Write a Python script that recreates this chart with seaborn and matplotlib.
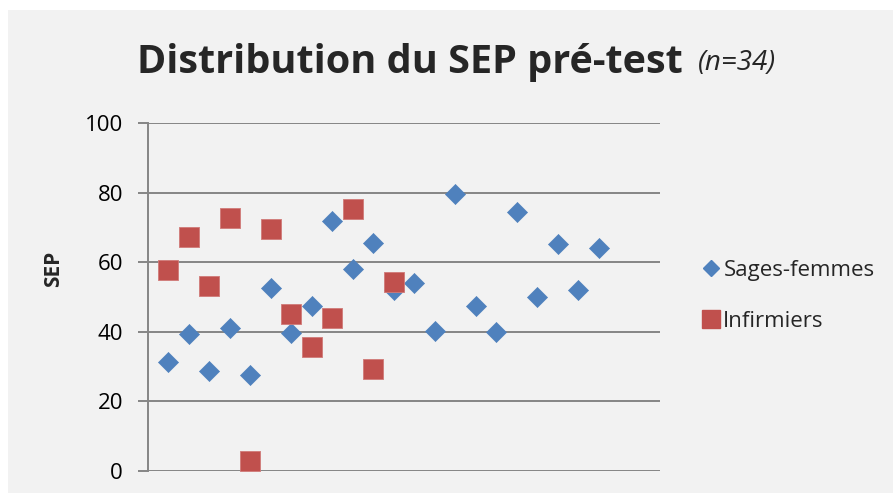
import pandas as pd
import matplotlib.pyplot as plt
import seaborn as sns
from matplotlib.patches import Rectangle
from matplotlib.lines import Line2D

# SEP scores (one point per participant)
sages_femmes = [31.2, 39.5, 28.8, 41.2, 27.6, 52.5, 39.7, 47.3, 71.7, 58.0, 65.6,
                52.0, 54.0, 40.1, 79.6, 47.5, 39.9, 74.5, 49.9, 65.1, 51.9, 64.2]
infirmiers = [57.8, 67.2, 53.3, 72.7, 2.9, 69.4, 45.0, 35.6, 44.0, 75.2, 29.2, 54.2]
y_ticks = [0, 20, 40, 60, 80, 100]

blue = '#4F81BD'
red = '#C0504D'
bg = '#F2F2F2'
grid = '#868686'

df_sf = pd.DataFrame({'idx': range(1, len(sages_femmes) + 1), 'SEP': sages_femmes})
df_inf = pd.DataFrame({'idx': range(1, len(infirmiers) + 1), 'SEP': infirmiers})

sns.set_style('white')
plt.rcParams['font.family'] = ['Open Sans', 'DejaVu Sans']

fig = plt.figure(figsize=(8.93, 4.93), dpi=100)
fig.patch.set_facecolor('white')
# chart area background (Excel style)
fig.patches.append(Rectangle((8 / 893, 0), 1, 1 - 10 / 493, transform=fig.transFigure,
                             facecolor=bg, edgecolor='none', zorder=-5))

ax = fig.add_axes([148 / 893, 22 / 493, 512 / 893, 348 / 493])
ax.set_facecolor(bg)

sns.scatterplot(data=df_sf, x='idx', y='SEP', marker='D', s=104, color=blue,
                edgecolor=blue, linewidth=0.5, ax=ax, zorder=3, clip_on=False)
sns.scatterplot(data=df_inf, x='idx', y='SEP', marker='s', s=200, color=red,
                edgecolor='#D07A78', linewidth=0.6, ax=ax, zorder=4, clip_on=False)

ax.set_xlim(0, 25)
ax.set_ylim(0, 100)
ax.set_yticks(y_ticks)
ax.set_xticks([])
for y in y_ticks:
    ax.axhline(y, color=grid, linewidth=1.4, zorder=1)

for side in ['top', 'right', 'bottom']:
    ax.spines[side].set_visible(False)
ax.spines['left'].set_color(grid)
ax.spines['left'].set_linewidth(1.4)
ax.tick_params(axis='y', direction='out', length=7, width=1.4, color=grid,
               labelsize=16, pad=11, labelcolor='black', left=True)

ax.set_xlabel('')
ax.set_ylabel('SEP', fontsize=15, fontweight='bold', va='center')
ax.yaxis.set_label_coords(-0.1846, 0.58)

# title: bold part + italic (n=34)
fig.text(137 / 893, 1 - 62 / 493, 'Distribution du SEP pré-test', fontsize=28.5,
         fontweight='bold', va='center', ha='left')
fig.text(698 / 893, 1 - 63 / 493, '(n=34)', fontsize=20, fontstyle='italic',
         va='center', ha='left')

handles = [Line2D([], [], marker='D', color=blue, linestyle='none', markersize=8.5),
           Line2D([], [], marker='s', color=red, linestyle='none', markersize=12.5)]
fig.legend(handles, ['Sages-femmes', 'Infirmiers'], loc='center left',
           bbox_to_anchor=(680 / 893, 1 - 296 / 493), frameon=False, fontsize=16,
           handletextpad=0.05, handlelength=1.0, labelspacing=1.35)

fig.savefig('out.png', dpi=100, facecolor='white')
